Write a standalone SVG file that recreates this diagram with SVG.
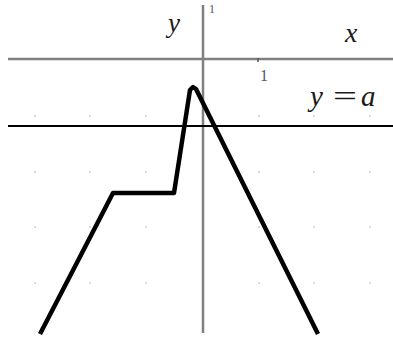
<svg xmlns="http://www.w3.org/2000/svg" width="393" height="337" viewBox="0 0 393 337">
<style>
.dot{fill:#c8d4c8}
.axis{stroke:#808080;stroke-width:2.5;fill:none}
.lbl{font-family:"Liberation Serif",serif;font-style:italic;fill:#1a1a1a}
.num{font-family:"Liberation Serif",serif;fill:#555}
</style>
<rect width="393" height="337" fill="#fff"/>
<g id="grid">
<g class="dot">
<circle cx="35" cy="116" r="1"/><circle cx="90" cy="116" r="1"/><circle cx="146" cy="116" r="1"/><circle cx="259" cy="116" r="1"/><circle cx="314" cy="116" r="1"/><circle cx="370" cy="116" r="1"/>
<circle cx="35" cy="172" r="1"/><circle cx="90" cy="172" r="1"/><circle cx="146" cy="172" r="1"/><circle cx="259" cy="172" r="1"/><circle cx="314" cy="172" r="1"/><circle cx="370" cy="172" r="1"/>
<circle cx="35" cy="227" r="1"/><circle cx="90" cy="227" r="1"/><circle cx="146" cy="227" r="1"/><circle cx="259" cy="227" r="1"/><circle cx="314" cy="227" r="1"/><circle cx="370" cy="227" r="1"/>
<circle cx="35" cy="283" r="1"/><circle cx="90" cy="283" r="1"/><circle cx="146" cy="283" r="1"/><circle cx="259" cy="283" r="1"/><circle cx="314" cy="283" r="1"/><circle cx="370" cy="283" r="1"/>
</g>
</g>
<g id="axes">
<line class="axis" x1="8" y1="59" x2="393" y2="59"/>
<line class="axis" x1="203" y1="5" x2="203" y2="333"/>
<line x1="258" y1="58" x2="258" y2="62" stroke="#555" stroke-width="1.5"/>
<text class="num" x="209" y="13" font-size="12">1</text>
<text class="num" x="260" y="81" font-size="16">1</text>
<text class="lbl" x="168" y="32" font-size="27">y</text>
<text class="lbl" x="345" y="42" font-size="28">x</text>
</g>
<g id="line-a">
<line x1="8" y1="126" x2="393" y2="126" stroke="#000" stroke-width="2"/>
<text class="lbl" x="310" y="106" font-size="29">y</text>
<text class="num" x="333" y="106" font-size="29" fill="#1a1a1a" style="fill:#1a1a1a" textLength="24" lengthAdjust="spacingAndGlyphs">=</text>
<text class="lbl" x="361" y="106" font-size="29">a</text>
</g>
<g id="curve">
<polyline points="40,334 113,193 174,193 190,90 193,87 196,89 318,334" fill="none" stroke="#000" stroke-width="4.5" stroke-linejoin="round" stroke-linecap="butt"/>
</g>
</svg>
